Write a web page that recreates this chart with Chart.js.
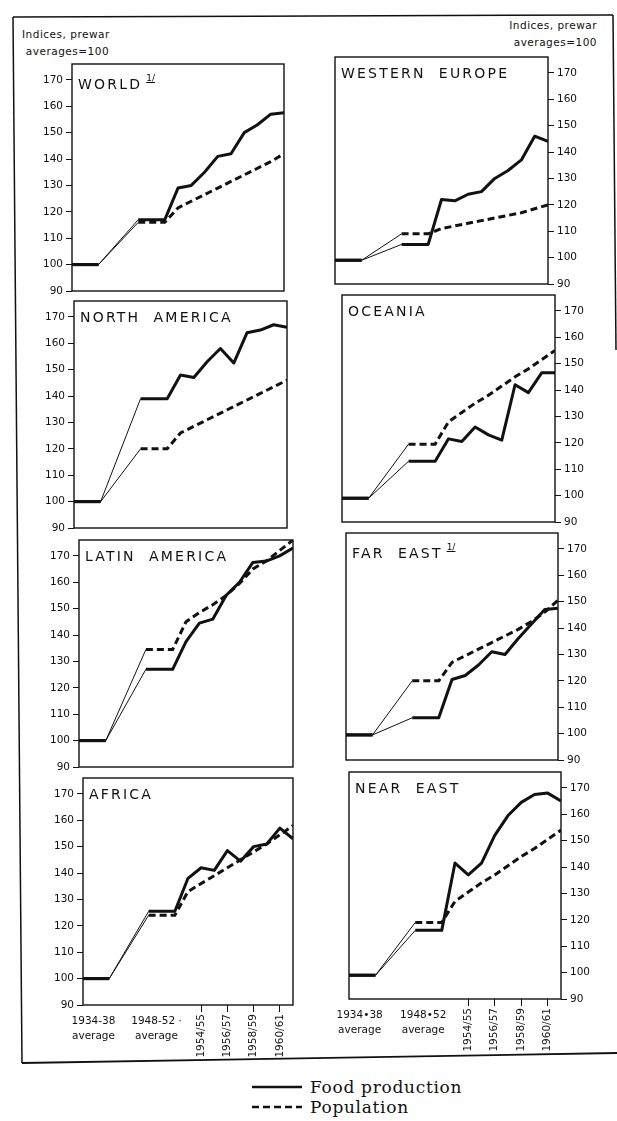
<!DOCTYPE html>
<html><head><meta charset="utf-8">
<script src="https://cdn.jsdelivr.net/npm/chart.js@4.4.1/dist/chart.umd.min.js"></script>
<style>
html,body{margin:0;padding:0;background:#fff;}
#page{position:relative;width:617px;height:1121px;overflow:hidden;font-family:'DejaVu Sans',sans-serif;color:#111;}
canvas{position:absolute;}
.title{position:absolute;font-size:14px;line-height:18px;letter-spacing:2.2px;white-space:pre;color:#111;}
.title sup{font-size:9px;letter-spacing:0;text-decoration:underline;position:relative;top:-2px;margin-left:4px;}
.hdr{position:absolute;font-size:10.5px;line-height:17px;letter-spacing:0.5px;white-space:pre;color:#111;}
.leg{position:absolute;font-family:'DejaVu Serif',serif;font-size:17px;letter-spacing:0.7px;white-space:pre;color:#111;line-height:20px;}
#frame{position:absolute;left:0;top:0;}
</style></head>
<body><div id="page">
<svg id="frame" width="617" height="1121">
  <line x1="13" y1="17" x2="613" y2="15" stroke="#111" stroke-width="1.5"/>
  <line x1="13" y1="17" x2="22" y2="1063" stroke="#111" stroke-width="1.5"/>
  <line x1="22" y1="1063" x2="617" y2="1053" stroke="#111" stroke-width="1.8"/>
  <line x1="613" y1="15" x2="616" y2="350" stroke="#111" stroke-width="1.5"/>
  <line x1="252" y1="1087" x2="302" y2="1087" stroke="#111" stroke-width="2.5"/>
  <line x1="252" y1="1107" x2="302" y2="1107" stroke="#111" stroke-width="2.5" stroke-dasharray="7,4"/>
</svg>
<div class="hdr" style="left:22px;top:26px;">Indices, prewar
 averages=100</div>
<div class="hdr" style="right:20px;top:17px;text-align:right;">Indices, prewar
averages=100</div>
<div class="leg" style="left:310px;top:1077px;">Food production</div>
<div class="leg" style="left:310px;top:1097px;">Population</div>
</div>
<script>
// ---- data ----
const xPos = [0, 2, 5, 7, 8, 9, 10, 11, 12, 13, 14, 15, 16];
const yTicks = [90, 100, 110, 120, 130, 140, 150, 160, 170];
const yearTickValues = [9, 11, 13, 15];
const yearTickLabels = ['1954/55', '1956/57', '1958/59', '1960/61'];
const avgLabelValues = [0.8, 5.6];
const avgLabelsAfrica = [['1934-38', 'average'], ['1948-52 ·', 'average']];
const avgLabelsNearEast = [['1934•38', 'average'], ['1948•52', 'average']];

const worldFood = [100, 100, 117, 117, 129, 130, 135, 141, 142, 150, 153, 157, 157.5];
const worldPop = [100, 100, 116, 116, 121.5, 124, 126.5, 129, 131.5, 134, 136.5, 139, 142];
const westEuropeFood = [99, 99, 105, 105, 122, 121.5, 124, 125, 130, 133, 137, 146, 144];
const westEuropePop = [99, 99, 109, 109, 111, 112, 113, 114, 115, 116, 117, 118.5, 120];
const northAmericaFood = [100, 100, 139, 139, 148, 147, 153, 158, 152.5, 164, 165, 167, 166];
const northAmericaPop = [100, 100, 120, 120, 126, 128.5, 131, 133.5, 136, 138.5, 141, 143.5, 146];
const oceaniaFood = [99, 99, 113, 113, 121.5, 120.5, 126, 123, 121, 142, 139, 146.5, 146.5];
const oceaniaPop = [99, 99, 119.5, 119.5, 128, 131.5, 135, 138, 141.5, 145, 148, 151.5, 155];
const latinAmericaFood = [100, 100, 127, 127, 137.5, 144.5, 146, 155, 160, 167.5, 168, 170, 173];
const latinAmericaPop = [100, 100, 134.5, 134.5, 145, 148.5, 151.5, 155, 159.5, 165, 168, 172, 176];
const farEastFood = [99.5, 99.5, 106, 106, 120.5, 122, 126, 131, 130, 136, 141.5, 147, 147.5];
const farEastPop = [99.5, 99.5, 120, 120, 127, 129.5, 132, 134.5, 137, 139.5, 142.5, 146, 150.5];
const africaFood = [100, 100, 125.5, 125.5, 138, 142, 141, 148.5, 144.5, 150, 151, 157, 153];
const africaPop = [100, 100, 124, 124, 133, 136, 139, 142, 145, 148, 151, 154.5, 158];
const nearEastFood = [99, 99, 116, 116, 141.5, 137, 141.5, 152, 159.5, 164.5, 167.5, 168, 165];
const nearEastPop = [99, 99, 119, 119, 127, 130.5, 134, 137, 140.5, 144, 147, 150.5, 154];

// ---- layout ----
const panels = [
  {title: 'WORLD', note: true, food: worldFood, pop: worldPop, side: 'left', L: 72, R: 284, B: 291},
  {title: 'WESTERN  EUROPE', food: westEuropeFood, pop: westEuropePop, side: 'right', L: 335, R: 548, B: 284},
  {title: 'NORTH  AMERICA', food: northAmericaFood, pop: northAmericaPop, side: 'left', L: 74, R: 287, B: 528},
  {title: 'OCEANIA', food: oceaniaFood, pop: oceaniaPop, side: 'right', L: 342, R: 555, B: 522},
  {title: 'LATIN  AMERICA', food: latinAmericaFood, pop: latinAmericaPop, side: 'left', L: 79, R: 293, B: 767},
  {title: 'FAR  EAST', note: true, food: farEastFood, pop: farEastPop, side: 'right', L: 346, R: 558, B: 760},
  {title: 'AFRICA', food: africaFood, pop: africaPop, side: 'left', L: 83, R: 293, B: 1005, avg: avgLabelsAfrica},
  {title: 'NEAR  EAST', food: nearEastFood, pop: nearEastPop, side: 'right', L: 349, R: 561, B: 999, avg: avgLabelsNearEast}
];
const PLOT_H = 227, W_Y = 40, PAD_H = 4, PAD_OUT = 24, PAD_V = 12, XH = 62;
const INK = '#111';

Chart.defaults.font.family = "'DejaVu Sans', sans-serif";
Chart.defaults.color = INK;

const boxPlugin = {
  id: 'box',
  afterDatasetsDraw(chart) {
    const a = chart.chartArea, c = chart.ctx;
    c.save(); c.strokeStyle = INK; c.lineWidth = 1.4;
    c.strokeRect(a.left, a.top, a.right - a.left, a.bottom - a.top);
    c.restore();
  }
};
const avgPlugin = {
  id: 'avg',
  afterDraw(chart, args, opts) {
    if (!opts || !opts.labels) return;
    const xs = chart.scales.x, c = chart.ctx;
    c.save(); c.font = "10.5px 'DejaVu Sans'"; c.fillStyle = INK;
    c.textAlign = 'center'; c.textBaseline = 'middle';
    avgLabelValues.forEach((v, i) => {
      const px = xs.getPixelForValue(v);
      opts.labels[i].forEach((ln, j) => c.fillText(ln, px, chart.chartArea.bottom + 16 + j * 15));
    });
    c.restore();
  }
};

const page = document.getElementById('page');
panels.forEach(p => {
  const T = p.B - PLOT_H;
  const isBottom = !!p.avg;
  const padL = p.side === 'left' ? PAD_H : PAD_OUT;
  const padR = PAD_H;
  const left = p.side === 'left' ? p.L - W_Y - padL : p.L - padL;
  const width = (p.R - p.L) + W_Y + padL + padR;
  const top = T - PAD_V;
  const height = PLOT_H + PAD_V + (isBottom ? XH : PAD_V);
  const cv = document.createElement('canvas');
  cv.width = width; cv.height = height;
  cv.style.left = left + 'px'; cv.style.top = top + 'px';
  cv.style.width = width + 'px'; cv.style.height = height + 'px';
  page.appendChild(cv);

  const t = document.createElement('div');
  t.className = 'title';
  t.style.left = (p.L + 6) + 'px'; t.style.top = (T + 7) + 'px';
  t.textContent = p.title;
  if (p.note) { const s = document.createElement('sup'); s.textContent = '1/'; t.appendChild(s); }
  page.appendChild(t);

  const thin = ctx => ctx.p0DataIndex === 1 ? 1 : 3;
  new Chart(cv, {
    type: 'line',
    data: {
      datasets: [
        {
          label: 'Population',
          data: xPos.map((x, i) => ({x, y: p.pop[i]})),
          borderColor: INK, borderWidth: 3, pointRadius: 0, fill: false,
          borderCapStyle: 'butt',
          segment: {
            borderWidth: thin,
            borderDash: ctx => ctx.p0DataIndex <= 1 ? [] : [7, 4]
          }
        },
        {
          label: 'Food production',
          data: xPos.map((x, i) => ({x, y: p.food[i]})),
          borderColor: INK, borderWidth: 3, pointRadius: 0, fill: false,
          borderJoinStyle: 'round',
          segment: {borderWidth: thin}
        }
      ]
    },
    options: {
      responsive: false, animation: false, devicePixelRatio: 1,
      layout: {padding: {left: padL, right: padR, top: PAD_V, bottom: isBottom ? 0 : PAD_V}},
      plugins: {legend: {display: false}, tooltip: {enabled: false}, avg: {labels: p.avg || null}},
      scales: {
        x: {
          type: 'linear', min: 0, max: 16, display: isBottom,
          afterBuildTicks: s => { s.ticks = yearTickValues.map(v => ({value: v})); },
          afterFit: s => { s.height = isBottom ? XH : 0; },
          ticks: {autoSkip: false, minRotation: 90, maxRotation: 90, padding: 2,
                  font: {size: 10.5}, color: INK, callback: (v, i) => yearTickLabels[i]},
          grid: {drawOnChartArea: false, drawTicks: true, tickLength: 7, color: INK, lineWidth: 1},
          border: {display: false}
        },
        y: {
          type: 'linear', position: p.side, min: 90, max: 176,
          afterBuildTicks: s => { s.ticks = yTicks.map(v => ({value: v})); },
          afterFit: s => { s.width = W_Y; },
          ticks: {padding: 3, font: {size: 10.5}, color: INK, callback: v => String(v)},
          grid: {drawOnChartArea: false, drawTicks: true, tickLength: 6, color: INK, lineWidth: 1},
          border: {display: false}
        }
      }
    },
    plugins: [boxPlugin, avgPlugin]
  });
});
</script>
</body></html>
